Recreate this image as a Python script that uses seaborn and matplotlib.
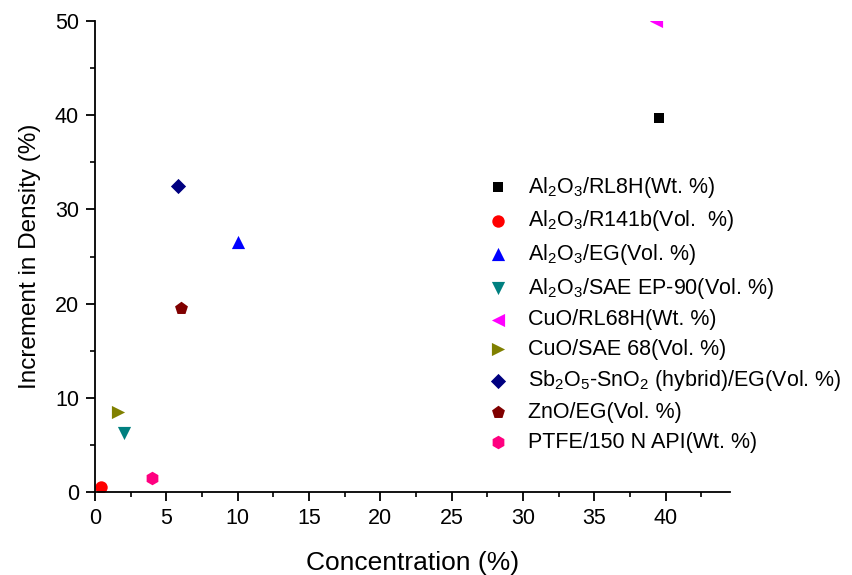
import matplotlib
matplotlib.use("Agg")
import matplotlib.pyplot as plt
import seaborn as sns
import pandas as pd
from matplotlib.ticker import MultipleLocator

labels = [
    r"Al$_2$O$_3$/RL8H(Wt. %)",
    r"Al$_2$O$_3$/R141b(Vol.  %)",
    r"Al$_2$O$_3$/EG(Vol. %)",
    r"Al$_2$O$_3$/SAE EP-90(Vol. %)",
    r"CuO/RL68H(Wt. %)",
    r"CuO/SAE 68(Vol. %)",
    r"Sb$_2$O$_5$-SnO$_2$ (hybrid)/EG(Vol. %)",
    r"ZnO/EG(Vol. %)",
    r"PTFE/150 N API(Wt. %)",
]
concentration = [39.5, 0.4, 10.0, 2.0, 39.3, 1.6, 5.8, 6.0, 4.0]
density_increment = [39.7, 0.5, 26.5, 6.3, 50.0, 8.5, 32.5, 19.5, 1.5]
colors = ["#000000", "#ff0000", "#0000ff", "#008080", "#ff00ff",
          "#808000", "#000080", "#800000", "#ff0080"]
markers = ["s", "o", "^", "v", "<", ">", "D", "p", "h"]
sizes = [60, 80, 90, 90, 90, 90, 60, 95, 95]

plt.rcParams["font.family"] = ["Liberation Sans", "DejaVu Sans"]
plt.rcParams["mathtext.fontset"] = "custom"
plt.rcParams["mathtext.rm"] = "Liberation Sans"
plt.rcParams["mathtext.it"] = "Liberation Sans"

df = pd.DataFrame({"label": labels, "x": concentration, "y": density_increment})

fig = plt.figure(figsize=(8.52, 5.75), dpi=100)
ax = fig.add_axes([95/852, 1 - 492/575, (730-95)/852, (492-21)/575])

for lab, c, m, s in zip(labels, colors, markers, sizes):
    sub = df[df["label"] == lab]
    sns.scatterplot(data=sub, x="x", y="y", color=c, marker=m, s=s,
                    linewidth=0, ax=ax, label=lab)

ax.set_xlim(0, 44.5)
ax.set_ylim(0, 50)
ax.xaxis.set_major_locator(MultipleLocator(5))
ax.xaxis.set_minor_locator(MultipleLocator(2.5))
ax.yaxis.set_major_locator(MultipleLocator(10))
ax.yaxis.set_minor_locator(MultipleLocator(5))
for sp in ["top", "right"]:
    ax.spines[sp].set_visible(False)
for sp in ["left", "bottom"]:
    ax.spines[sp].set_linewidth(1.3)
ax.tick_params(which="major", direction="out", length=6.5, width=1.3, labelsize=15.5, pad=5)
ax.tick_params(which="minor", direction="out", length=3.5, width=1.2)
ax.set_xlabel("Concentration (%)", fontsize=19, labelpad=16)
ax.set_ylabel("Increment in Density (%)", fontsize=17.5, labelpad=10)

leg = ax.legend(loc="upper left", bbox_to_anchor=(476/852, 1 - 164/575),
                bbox_transform=fig.transFigure, frameon=False, fontsize=15.5,
                handletextpad=0.9, labelspacing=0.4, borderpad=0, handlelength=1.0)

fig.savefig("out.png", dpi=100)
